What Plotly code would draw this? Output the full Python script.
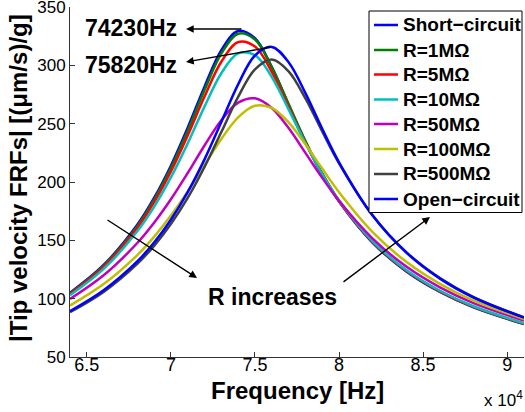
import plotly.graph_objects as go

freq_hz = [64000, 66000, 68000, 69000, 70000, 71000, 72000, 73000, 74000, 75000,
           76000, 77000, 78000, 79000, 80000, 82000, 84000, 86000, 88000, 91000]

short_circuit = [105.1, 128.9, 163.3, 186.3, 214.0, 246.5, 281.7, 313.0, 329.4, 323.2,
                 298.5, 266.2, 234.4, 206.5, 183.2, 147.9, 123.4, 105.8, 92.6, 78.2]
r_1M = [104.6, 128.2, 162.1, 184.7, 212.0, 244.0, 278.8, 310.0, 327.1, 322.1,
        298.5, 266.8, 235.2, 207.4, 184.0, 148.5, 123.9, 106.2, 92.9, 78.4]
r_5M = [104.0, 127.3, 160.5, 182.6, 209.0, 239.9, 273.2, 303.1, 319.9, 316.1,
        294.4, 264.3, 233.8, 206.6, 183.6, 148.5, 124.0, 106.3, 93.0, 78.5]
r_10M = [102.9, 125.5, 157.7, 178.7, 203.9, 233.1, 264.6, 293.2, 310.2, 308.7,
         290.0, 262.3, 233.2, 206.8, 184.1, 149.2, 124.6, 106.8, 93.5, 78.9]
r_50M = [99.7, 120.0, 147.7, 165.1, 185.2, 207.7, 231.3, 253.0, 268.0, 271.7,
         263.4, 246.2, 225.0, 203.6, 183.9, 151.5, 127.5, 109.7, 96.2, 81.2]
r_100M = [94.1, 112.5, 137.4, 153.0, 171.2, 191.9, 214.5, 236.9, 255.4, 265.3,
          263.5, 251.1, 232.3, 211.5, 191.3, 157.1, 131.6, 112.7, 98.3, 82.6]
r_500M = [88.4, 105.8, 129.8, 145.3, 164.0, 186.4, 212.9, 242.8, 272.9, 296.5,
          305.0, 294.9, 271.6, 243.3, 215.9, 171.3, 139.9, 117.7, 101.4, 84.0]
open_circuit = [89.3, 107.2, 131.9, 148.1, 167.7, 191.3, 219.4, 251.4, 283.7, 308.4,
                315.8, 302.7, 276.2, 245.6, 216.9, 171.2, 139.5, 117.2, 101.0, 83.7]

series_names = ["Short\u2212circuit", "R=1M\u03a9", "R=5M\u03a9", "R=10M\u03a9",
                "R=50M\u03a9", "R=100M\u03a9", "R=500M\u03a9", "Open\u2212circuit"]
series_values = [short_circuit, r_1M, r_5M, r_10M, r_50M, r_100M, r_500M, open_circuit]
series_colors = ["#0000FF", "#008000", "#FF0000", "#00BFBF",
                 "#BF00BF", "#BFBF00", "#404040", "#0000FF"]

x_tickvals = [65000, 70000, 75000, 80000, 85000, 90000]
x_ticktext = ["6.5", "7", "7.5", "8", "8.5", "9"]
y_tickvals = [50, 100, 150, 200, 250, 300, 350]

FONT = "Liberation Sans, Arial, sans-serif"

fig = go.Figure()
for name, vals, col in zip(series_names, series_values, series_colors):
    fig.add_trace(go.Scatter(x=freq_hz, y=vals, mode="lines", name=name, showlegend=False,
                             line=dict(color=col, width=2.5, shape="spline", smoothing=1)))

W, H = 525, 412
L, R, T, B = 70, 1, 7, 55
pw, ph = W - L - R, H - T - B


def px(xp):
    return (xp - L) / pw


def py(yp):
    return (H - B - yp) / ph


def label(text, x, y, size, xanchor="center", angle=0):
    return dict(text=text, x=px(x), y=py(y), xref="paper", yref="paper",
                xanchor=xanchor, yanchor="middle", textangle=angle, showarrow=False,
                font=dict(size=size, color="black", family=FONT))


annots = []
shapes = []
# peak labels and trend label
annots.append(label("<b>74230Hz</b>", 131, 28, 23))
annots.append(label("<b>75820Hz</b>", 131, 65, 23))
annots.append(label("<b>R increases</b>", 272, 297, 23))
# arrows
for hx, hy, ax, ay in [(186, 29, 57, 0), (186, 62, 86, -15), (197, 278, -91, -59), (430, 217, -88, 66)]:
    annots.append(dict(text="", x=px(hx), y=py(hy), xref="paper", yref="paper",
                       showarrow=True, ax=ax, ay=ay, arrowhead=2, arrowsize=1.1,
                       arrowwidth=1.4, arrowcolor="black"))
# axis titles
annots.append(label("<b>Frequency [Hz]</b>", 297, 390, 24))
annots.append(label("<b>|Tip velocity FRFs| [(\u03bcm/s)/g]</b>", 18, 178, 24, angle=-90))
annots.append(label("x 10<sup>4</sup>", 525, 399, 17, xanchor="right"))

# legend box (drawn manually to match the reference layout)
leg_x0, leg_x1, leg_y0, leg_y1 = 369, 522, 11, 212.5
shapes.append(dict(type="rect", xref="paper", yref="paper",
                   x0=px(leg_x0), x1=px(leg_x1), y0=py(leg_y1), y1=py(leg_y0),
                   fillcolor="white", line=dict(color="black", width=1), layer="above"))
row_y = [25, 50, 74.5, 99.5, 124, 149, 174, 199]
for name, col, ry in zip(series_names, series_colors, row_y):
    shapes.append(dict(type="line", xref="paper", yref="paper",
                       x0=px(374), x1=px(398), y0=py(ry), y1=py(ry),
                       line=dict(color=col, width=2.5), layer="above"))
    annots.append(label("<b>" + name + "</b>", 401, ry, 19, xanchor="left"))

fig.update_layout(
    width=W, height=H,
    margin=dict(l=L, r=R, t=T, b=B, autoexpand=False),
    paper_bgcolor="white", plot_bgcolor="white",
    font=dict(family=FONT, color="black"),
    annotations=annots, shapes=shapes,
)
fig.update_xaxes(range=[64000, 91000], tickvals=x_tickvals, ticktext=x_ticktext,
                 ticks="inside", ticklen=5, tickcolor="#333333",
                 showline=True, linecolor="#333333", linewidth=1,
                 showgrid=False, zeroline=False, ticklabelstandoff=-9,
                 ticklabeloverflow="allow", automargin=False,
                 tickfont=dict(size=18, color="black", family=FONT))
fig.update_yaxes(range=[50, 350], tickvals=y_tickvals,
                 ticks="inside", ticklen=5, tickcolor="#333333",
                 showline=True, linecolor="#333333", linewidth=1,
                 showgrid=False, zeroline=False, ticklabeloverflow="allow",
                 automargin=False,
                 tickfont=dict(size=17, color="black", family=FONT))

fig.write_html("out.html", config={"displayModeBar": False},
               post_script="document.body.style.margin='0px';")
